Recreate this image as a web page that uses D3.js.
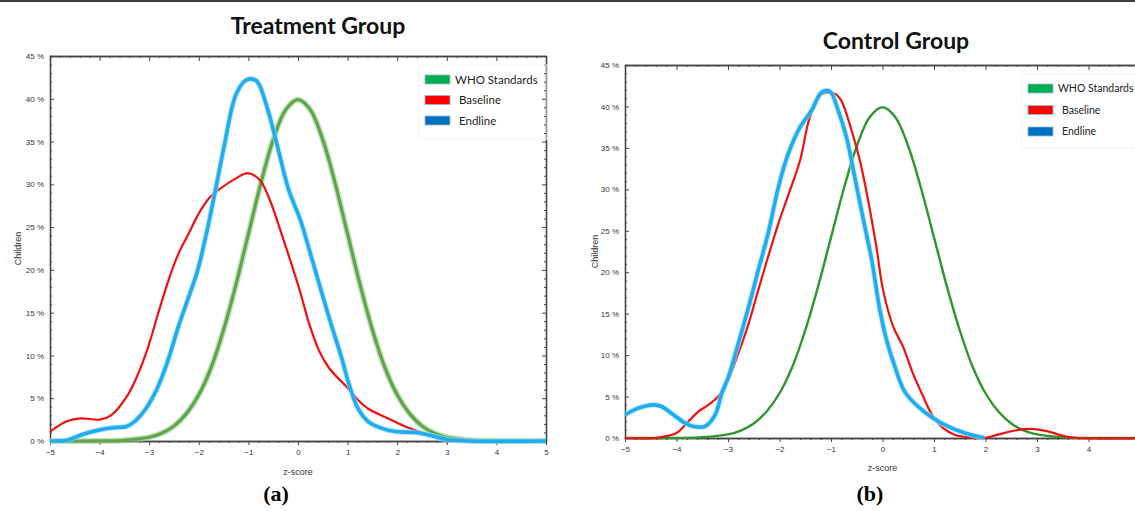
<!DOCTYPE html>
<html>
<head>
<meta charset="utf-8">
<script src="https://cdn.jsdelivr.net/npm/d3@7"></script>
<style>
  body { margin: 0; background: #fff; }
  svg { display: block; }
</style>
</head>
<body>
<div id="chart"></div>
<script>
// WHO reference curve (same in both panels)
const zWho = [-5, -4.5, -4, -3.5, -3, -2.75, -2.5, -2.25, -2, -1.75, -1.5, -1.25, -1, -0.75, -0.5, -0.25, 0,
              0.25, 0.5, 0.75, 1, 1.25, 1.5, 1.75, 2, 2.25, 2.5, 2.75, 3, 3.5, 4, 4.5, 5];
const whoPct = [0, 0, 0.01, 0.09, 0.44, 0.9, 1.75, 3.2, 5.4, 8.6, 13, 18.3, 24.2, 30.1, 35.2, 38.7, 39.9,
                38.7, 35.2, 30.1, 24.2, 18.3, 13, 8.6, 5.4, 3.2, 1.75, 0.9, 0.44, 0.09, 0.01, 0, 0];

// (a) treatment group
const zBaseA = [-5, -4.66, -4.38, -4, -3.77, -3.43, -3.22, -3.02, -2.82, -2.61, -2.41, -2.2, -2, -1.79, -1.59, -1.25, -1.01,
                -0.77, -0.57, -0.36, -0.16, 0.05, 0.22, 0.42, 0.63, 1, 1.21, 1.41, 1.75, 2.16, 2.5, 3, 3.5, 5];
const baseA = [1.1, 2.3, 2.65, 2.5, 3, 5.4, 7.9, 11, 14.9, 18.8, 21.9, 24.3, 26.6, 28.4, 29.4, 30.7, 31.3,
               30.5, 28.2, 24.7, 21.2, 17.3, 13.8, 10.6, 8.5, 6.2, 4.8, 3.8, 2.8, 1.7, 1.0, 0.2, 0, 0];
const zEndA = [-5, -4.66, -4.38, -4, -3.74, -3.46, -3.29, -3.09, -2.85, -2.64, -2.41, -2.2, -2.03, -1.86, -1.69, -1.49, -1.25,
               -1.04, -0.84, -0.63, -0.43, -0.19, 0.05, 0.25, 0.46, 0.66, 0.87, 1.04, 1.21, 1.41, 1.68, 1.96, 2.37, 2.64, 2.98, 3.46, 5];
const endA = [0, 0.1, 0.7, 1.3, 1.55, 1.7, 2.3, 3.6, 6, 9.1, 13.4, 16.9, 19.8, 23.9, 28.6, 34.4, 40.5,
              42.2, 42.1, 39.1, 34.8, 29.4, 25.8, 21.9, 17.7, 13.8, 9.9, 6.4, 3.8, 2.3, 1.5, 1.1, 1.0, 0.7, 0.2, 0, 0];

// (b) control group
const zBaseB = [-5, -4.41, -4.22, -4, -3.8, -3.57, -3.38, -3.19, -3, -2.8, -2.6, -2.41, -2.22, -2.02, -1.83, -1.6, -1.41, -1.18,
                -0.92, -0.8, -0.6, -0.44, -0.28, -0.12, 0.01, 0.21, 0.4, 0.59, 0.79, 0.98, 1.18, 1.4, 1.66, 1.98,
                2.24, 2.57, 2.89, 3.21, 3.54, 3.79, 5];
const baseB = [0, 0, 0.2, 0.6, 1.8, 3.2, 4, 5, 7, 10.2, 13.8, 17.9, 21.9, 25.9, 29.3, 33.5, 38.7, 41.5,
               41.5, 40.7, 37.1, 33.5, 28.7, 23.1, 17.9, 13.4, 11, 7.8, 5, 2.6, 1.2, 0.4, 0.1, 0,
               0.4, 0.9, 1.1, 0.8, 0.2, 0, 0];
const zEndB = [-5, -4.74, -4.45, -4.29, -4.06, -3.83, -3.67, -3.45, -3.25, -3.12, -2.99, -2.8, -2.6, -2.41, -2.22, -2.02, -1.83,
               -1.6, -1.38, -1.18, -1.02, -0.86, -0.7, -0.54, -0.37, -0.21, -0.05, 0.08, 0.24, 0.43, 0.69, 0.98, 1.27, 1.6, 1.98];
const endB = [2.8, 3.6, 4, 3.8, 2.8, 1.8, 1.4, 1.4, 2.8, 5.4, 7.4, 11.4, 15.8, 20.3, 24.7, 30.3, 34.3,
              37.5, 39.5, 41.7, 41.8, 39.5, 36.3, 31.5, 26.3, 21.5, 15.4, 11.8, 8.6, 5.6, 3.8, 2.4, 1.4, 0.6, 0];

const xTicksA = [-5, -4, -3, -2, -1, 0, 1, 2, 3, 4, 5];
const xTicksB = [-5, -4, -3, -2, -1, 0, 1, 2, 3, 4];   // 5 falls off the picture's edge
const yTicks = [0, 5, 10, 15, 20, 25, 30, 35, 40, 45];

const legendNames = ["WHO Standards", "Baseline", "Endline"];
const legendColors = ["#00b050", "#ff0000", "#0070c0"];

const svg = d3.select("#chart").append("svg")
    .attr("width", 1135)
    .attr("height", 511)
    .style("font-family", "'Liberation Sans', Arial, sans-serif");

// thin black rule at the very top
svg.append("line")
    .attr("x1", 0).attr("x2", 1135)
    .attr("y1", 1).attr("y2", 1)
    .attr("stroke", "#000").attr("stroke-width", 1.5);

function zip(xs, ys) { return xs.map((z, i) => ({z: z, v: ys[i]})); }

function drawPanel(o) {
    let x = d3.scaleLinear().domain([-5, 5]).range([o.x0, o.x1]);
    let y = d3.scaleLinear().domain([0, 45]).range([o.y0, o.y1]);
    let g = svg.append("g");

    // title
    svg.append("text")
        .attr("x", o.titleX).attr("y", o.titleY)
        .attr("text-anchor", "middle")
        .style("font-family", "Lato, 'Open Sans', sans-serif")
        .style("font-weight", "bold")
        .style("font-size", "23px")
        .attr("fill", "#111")
        .text(o.title);

    // sub label (a) / (b)
    svg.append("text")
        .attr("x", o.subX).attr("y", 501)
        .attr("text-anchor", "middle")
        .style("font-family", "'Liberation Serif', 'Times New Roman', serif")
        .style("font-weight", "bold")
        .style("font-size", "22px")
        .text(o.sub);

    const axisColor = "#444";
    const minorX = d3.range(-5, 5.001, 0.2).filter(d => Math.abs(d - Math.round(d)) > 0.01);
    const minorY = d3.range(0, 45.001, 1).filter(d => d % 5 !== 0);

    // minor ticks first
    g.append("g").attr("transform", "translate(0," + o.y0 + ")")
        .call(d3.axisBottom(x).tickValues(minorX).tickSize(2).tickFormat(""));
    g.append("g").attr("transform", "translate(0," + o.y1 + ")")
        .call(d3.axisTop(x).tickValues(minorX).tickSize(-2).tickFormat(""));
    g.append("g").attr("transform", "translate(" + o.x0 + ",0)")
        .call(d3.axisLeft(y).tickValues(minorY).tickSize(-2).tickFormat(""));

    // major ticks + labels
    g.append("g").attr("transform", "translate(0," + o.y0 + ")")
        .call(d3.axisBottom(x).tickValues(o.xTicks).tickSize(4).tickPadding(4).tickSizeOuter(0));
    g.append("g").attr("transform", "translate(0," + o.y1 + ")")
        .call(d3.axisTop(x).tickValues(o.xTicks).tickSize(-5).tickFormat("").tickSizeOuter(0));
    g.append("g").attr("transform", "translate(" + o.x0 + ",0)")
        .call(d3.axisLeft(y).tickValues(yTicks).tickSize(-4).tickPadding(6)
            .tickFormat(d => d + " %").tickSizeOuter(0));
    if (o.rightBorder) {
        g.append("g").attr("transform", "translate(" + o.x1 + ",0)")
            .call(d3.axisRight(y).tickValues(yTicks).tickSize(-4).tickFormat("").tickSizeOuter(0));
        g.append("g").attr("transform", "translate(" + o.x1 + ",0)")
            .call(d3.axisRight(y).tickValues(minorY).tickSize(-2).tickFormat("").tickSizeOuter(0));
    }

    g.selectAll(".domain").attr("stroke", axisColor).attr("stroke-width", 1.3);
    g.selectAll(".tick line").attr("stroke", axisColor);
    g.selectAll(".tick text").attr("fill", "#333").style("font-size", "8px")
        .style("font-family", "'Liberation Sans', Arial, sans-serif");

    // axis titles
    g.append("text")
        .attr("transform", "translate(" + o.childX + "," + ((o.y0 + o.y1) / 2) + ") rotate(-90)")
        .attr("text-anchor", "middle")
        .style("font-size", "9px").attr("fill", "#333")
        .text("Children");
    g.append("text")
        .attr("x", x(0)).attr("y", o.zLabelY)
        .attr("text-anchor", "middle")
        .style("font-size", "9px").attr("fill", "#333")
        .text("z-score");

    let line = d3.line()
        .x(d => x(d.z))
        .y(d => y(d.v))
        .curve(d3.curveCatmullRom.alpha(0.5));

    // WHO
    if (o.soft) {
        g.append("path").datum(zip(zWho, whoPct))
            .attr("fill", "none").attr("stroke", "#9ccb8f").attr("stroke-width", 6)
            .attr("stroke-opacity", 0.6).attr("d", line);
    }
    g.append("path").datum(zip(zWho, whoPct))
        .attr("fill", "none").attr("stroke", o.whoColor).attr("stroke-width", o.whoWidth)
        .attr("d", line);

    // Baseline
    g.append("path").datum(zip(o.zBase, o.base))
        .attr("fill", "none").attr("stroke", "#f01010").attr("stroke-width", 2.2)
        .attr("d", line);

    // Endline
    g.append("path").datum(zip(o.zEnd, o.end))
        .attr("fill", "none").attr("stroke", "#9fd9f5").attr("stroke-width", 5.5)
        .attr("stroke-opacity", 0.7).attr("d", line);
    g.append("path").datum(zip(o.zEnd, o.end))
        .attr("fill", "none").attr("stroke", "#1eaef0").attr("stroke-width", 3.6)
        .attr("d", line);

    // legend
    let leg = g.append("g").attr("transform", "translate(" + o.legX + "," + o.legY + ")");
    leg.append("rect")
        .attr("x", -6).attr("y", -10)
        .attr("width", o.legW).attr("height", 74)
        .attr("fill", "none").attr("stroke", "#f4f4f4");
    legendNames.forEach(function (name, i) {
        leg.append("rect")
            .attr("x", 0).attr("y", i * o.legStep)
            .attr("width", 25).attr("height", 9)
            .attr("fill", legendColors[i])
            .attr("stroke", "#9bb7d4").attr("stroke-width", 0.8);
        leg.append("text")
            .attr("x", i === 0 ? 30 : 34).attr("y", i * o.legStep + 4.5)
            .attr("dy", "0.35em")
            .style("font-family", "Lato, 'Open Sans', sans-serif")
            .style("font-size", o.legFont + "px")
            .attr("fill", "#222")
            .text(name);
    });
}

drawPanel({
    title: "Treatment Group", titleX: 318, titleY: 34,
    sub: "(a)", subX: 276,
    x0: 50, x1: 546, y0: 441, y1: 56, xTicks: xTicksA,
    rightBorder: true, childX: 21, zLabelY: 475,
    whoColor: "#5ea64c", whoWidth: 3.2, soft: true,
    zBase: zBaseA, base: baseA, zEnd: zEndA, end: endA,
    legX: 425, legY: 75, legStep: 20.5, legW: 128, legFont: 11.5
});

drawPanel({
    title: "Control Group", titleX: 896, titleY: 49,
    sub: "(b)", subX: 870,
    x0: 625, x1: 1140, y0: 438, y1: 65, xTicks: xTicksB,
    rightBorder: false, childX: 598, zLabelY: 471,
    whoColor: "#2f952c", whoWidth: 2.4, soft: false,
    zBase: zBaseB, base: baseB, zEnd: zEndB, end: endB,
    legX: 1028, legY: 84, legStep: 21.5, legW: 118, legFont: 10.5
});
</script>
</body>
</html>
